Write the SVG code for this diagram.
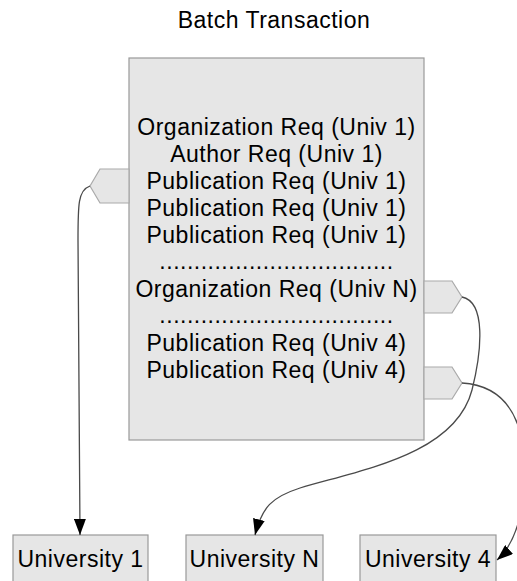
<svg xmlns="http://www.w3.org/2000/svg" width="517" height="581" viewBox="0 0 517 581">
<defs>
<style>
text{font-family:"Liberation Sans",Arial,sans-serif;font-size:23px;fill:#000;text-anchor:middle;letter-spacing:0.5px}
.box{fill:#e6e6e6;stroke:#999;stroke-width:1.2}
.port{fill:#e6e6e6;stroke:#aaa;stroke-width:1.2}
.edge{fill:none;stroke:#4a4a4a;stroke-width:1.3}
</style>
<marker id="arr" viewBox="0 0 16 12" refX="16" refY="6" markerWidth="16" markerHeight="12" markerUnits="userSpaceOnUse" orient="auto">
<path d="M0,0 L16,6 L0,12 Z" fill="#000"/>
</marker>
</defs>
<rect width="517" height="581" fill="#fff"/>
<g id="title"><text x="274" y="28">Batch Transaction</text></g>
<g id="batch">
<rect class="box" x="129" y="58" width="295" height="382"/>
<text x="276.5" y="135">Organization Req (Univ 1)</text>
<text x="276.5" y="162">Author Req (Univ 1)</text>
<text x="276.5" y="189">Publication Req (Univ 1)</text>
<text x="276.5" y="216">Publication Req (Univ 1)</text>
<text x="276.5" y="243">Publication Req (Univ 1)</text>
<text x="276.5" y="269" style="letter-spacing:0.5px">..................................</text>
<text x="276.5" y="297">Organization Req (Univ N)</text>
<text x="276.5" y="323" style="letter-spacing:0.5px">..................................</text>
<text x="276.5" y="351">Publication Req (Univ 4)</text>
<text x="276.5" y="378">Publication Req (Univ 4)</text>
</g>
<g id="port1"><polygon class="port" points="129,169 100,169 90,186 100,203 129,203"/></g>
<g id="portN"><polygon class="port" points="424,281 452,281 462,297 452,313 424,313"/></g>
<g id="port4"><polygon class="port" points="424,367 452,367 462,383 452,399 424,399"/></g>
<g id="univ1"><rect class="box" x="13" y="535" width="135" height="52"/><text x="80.5" y="567">University 1</text></g>
<g id="univN"><rect class="box" x="186" y="535" width="137" height="52"/><text x="254.5" y="567">University N</text></g>
<g id="univ4"><rect class="box" x="360" y="535" width="136" height="52"/><text x="428" y="567">University 4</text></g>
<g id="connectors">
<path class="edge" marker-end="url(#arr)" d="M90,186 C78,190 78,205 78,240 L80,535"/>
<path class="edge" marker-end="url(#arr)" d="M462,297 C486,302 482,350 472,390 C455,455 360,470 300,488 C272,497 262,507 255,535"/>
<path class="edge" marker-end="url(#arr)" d="M462,383 C495,385 515,405 522,440 C530,490 520,540 497,560"/>
</g>
</svg>
